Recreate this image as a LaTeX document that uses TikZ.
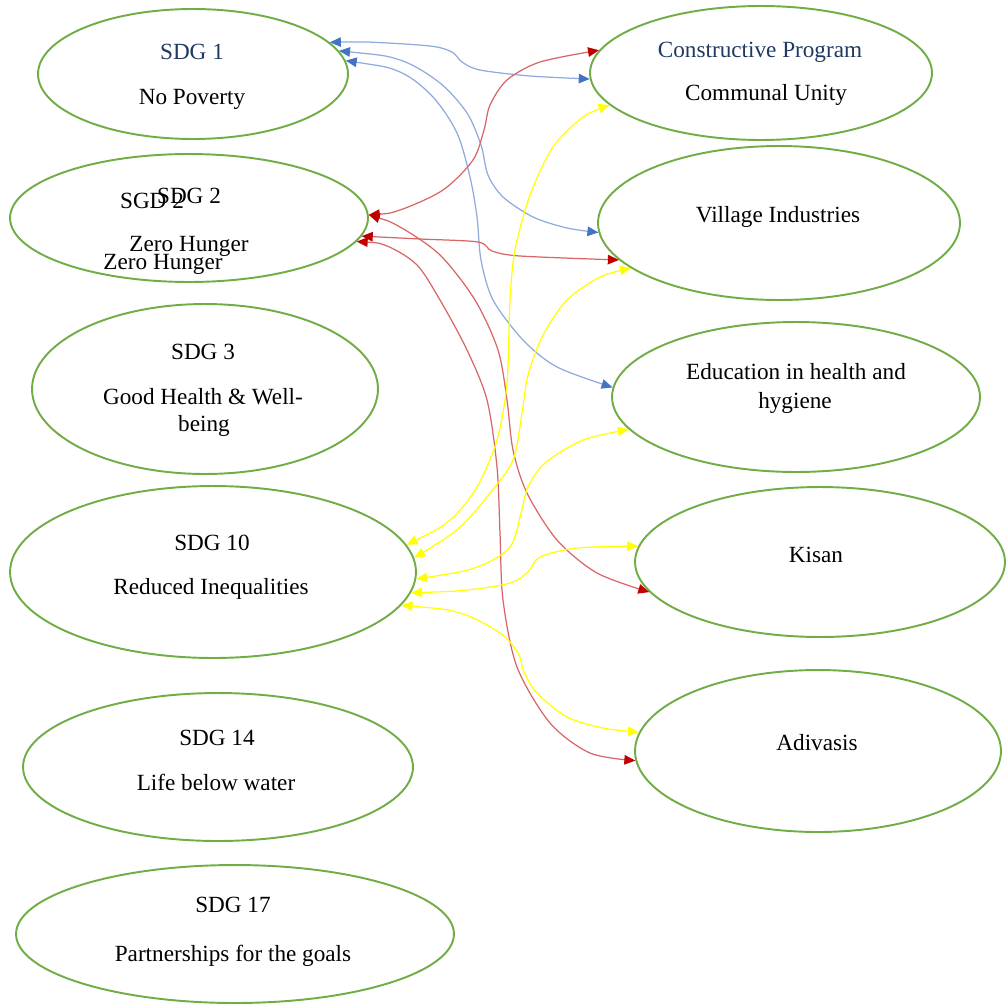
\documentclass[tikz,border=0pt]{standalone}
\usepackage{fontspec}
\setmainfont{Liberation Serif}
\usetikzlibrary{shapes.geometric,arrows.meta}
\definecolor{sdggreen}{HTML}{70AD47}
\definecolor{sdgblue}{HTML}{4472C4}
\definecolor{sdgred}{HTML}{C00000}
\definecolor{sdgyellow}{HTML}{FFFF00}
\definecolor{sdgnavy}{HTML}{1F3864}

\begin{document}
\begin{tikzpicture}
    [
    x=0.02cm, y=-0.02cm,
    goal/.style = {ellipse,draw=sdggreen,line width=1.1pt,inner sep=0pt},
    lbl/.style = {anchor=base,inner sep=0pt,font=\fontsize{13.2}{15}\selectfont},
    bconn/.style = {draw=sdgblue!60,line width=0.7pt,{Triangle[length=0.22cm,width=0.19cm,color=sdgblue]}-{Triangle[length=0.22cm,width=0.19cm,color=sdgblue]}},
    rconn/.style = {draw=sdgred!60,line width=0.7pt,{Triangle[length=0.22cm,width=0.19cm,color=sdgred]}-{Triangle[length=0.22cm,width=0.19cm,color=sdgred]}},
    yconn/.style = {draw=sdgyellow,line width=0.7pt,{Triangle[length=0.22cm,width=0.19cm,color=sdgyellow]}-{Triangle[length=0.22cm,width=0.19cm,color=sdgyellow]}}
    ]
\useasboundingbox (0,0) rectangle (1006,1004);

% goals
\node[goal,minimum width=6.2cm,minimum height=2.6cm] (sdgone) at (193,74) {};
\node[goal,minimum width=7.16cm,minimum height=2.56cm] (sdgtwo) at (189,218) {};
\node[goal,minimum width=6.92cm,minimum height=3.4cm] (sdgthree) at (205,389) {};
\node[goal,minimum width=8.12cm,minimum height=3.44cm] (sdgten) at (213,572) {};
\node[goal,minimum width=7.8cm,minimum height=2.96cm] (sdgfourteen) at (218,767) {};
\node[goal,minimum width=8.76cm,minimum height=2.76cm] (sdgseventeen) at (235,934) {};

% constructive program
\node[goal,minimum width=6.84cm,minimum height=2.68cm] (unity) at (761,73) {};
\node[goal,minimum width=7.24cm,minimum height=3.08cm] (village) at (779,223) {};
\node[goal,minimum width=7.36cm,minimum height=3.0cm] (educ) at (796,397) {};
\node[goal,minimum width=7.4cm,minimum height=3.0cm] (kisan) at (820,562) {};
\node[goal,minimum width=7.32cm,minimum height=3.24cm] (adiv) at (818,751) {};

\draw[bconn] plot[smooth,tension=0.5] coordinates {(sdgone.13) (367,42) (430,46) (452,52) (462,62) (480,70) (530,76) (unity.182)};
\draw[bconn] plot[smooth,tension=0.5] coordinates {(sdgone.9) (400,60) (440,83) (467,113) (481,145) (488,175) (503,197) (533,217) (567,228) (village.183)};
\draw[bconn] plot[smooth,tension=0.5] coordinates {(sdgone.5) (400,72) (433,97) (457,133) (470,177) (477,217) (481,260) (493,300) (523,340) (557,367) (educ.177)};

\draw[rconn] plot[smooth,tension=0.5] coordinates {(sdgtwo.1) (400,210) (443,190) (473,160) (484,130) (490,105) (507,80) (540,62) (unity.172)};
\draw[rconn] plot[smooth,tension=0.5] coordinates {(sdgtwo.-6) (420,239) (478,242) (492,251) (520,256) (village.193)};
\draw[rconn] plot[smooth,tension=0.5] coordinates {(sdgtwo.1) (400,227) (440,255) (475,300) (498,350) (507,400) (513,450) (527,493) (557,540) (597,573) (kisan.190)};
\draw[rconn] plot[smooth,tension=0.5] coordinates {(sdgtwo.-8) (387,246) (417,265) (440,300) (467,350) (487,400) (497,467) (500,533) (503,600) (517,667) (550,723) (590,753) (adiv.183)};

\draw[yconn] plot[smooth,tension=0.5] coordinates {(sdgten.8) (450,520) (477,487) (497,440) (507,383) (510,300) (515,250) (530,195) (553,147) (583,117) (unity.192)};
\draw[yconn] plot[smooth,tension=0.5] coordinates {(sdgten.4) (460,527) (490,493) (513,460) (522,413) (528,375) (543,335) (567,300) (600,277) (village.197)};
\draw[yconn] plot[smooth,tension=0.5] coordinates {(sdgten.-2) (477,567) (510,547) (521,513) (528,487) (545,463) (583,440) (educ.191)};
\draw[yconn] plot[smooth,tension=0.5] coordinates {(sdgten.-6) (467,590) (510,583) (528,572) (540,557) (577,548) (kisan.175)};
\draw[yconn] plot[smooth,tension=0.5] coordinates {(sdgten.-10) (460,613) (500,633) (518,653) (524,672) (537,693) (567,717) (603,728) (adiv.174)};

\node[lbl,text=sdgnavy] (sdgonenum) at (192,59) {SDG 1};
\node[lbl] (sdgonename) at (192,104) {No Poverty};
\node[lbl] (sdgtwonum) at (189,203) {SDG 2};
\node[lbl] (sdgtwonumb) at (152,208) {SGD 2};
\node[lbl] (sdgtwoname) at (189,251) {Zero Hunger};
\node[lbl] (sdgtwonameb) at (163,269) {Zero Hunger};
\node[lbl] (sdgthreenum) at (203,359) {SDG 3};
\node[lbl] (sdgthreename) at (203,404) {Good Health \& Well-};
\node[lbl] (sdgthreenameb) at (204,431) {being};
\node[lbl] (sdgtennum) at (212,550) {SDG 10};
\node[lbl] (sdgtenname) at (211,594) {Reduced Inequalities};
\node[lbl] (sdgfourteennum) at (217,745) {SDG 14};
\node[lbl] (sdgfourteenname) at (216,790) {Life below water};
\node[lbl] (sdgseventeennum) at (233,912) {SDG 17};
\node[lbl] (sdgseventeenname) at (233,961) {Partnerships for the goals};

\node[lbl,text=sdgnavy] (unitytitle) at (760,57) {Constructive Program};
\node[lbl] (unityname) at (766,100) {Communal Unity};
\node[lbl] (villagename) at (778,222) {Village Industries};
\node[lbl] (educname) at (796,379) {Education in health and};
\node[lbl] (educnameb) at (795,408) {hygiene};
\node[lbl] (kisanname) at (816,562) {Kisan};
\node[lbl] (adivname) at (817,750) {Adivasis};

\end{tikzpicture}
\end{document}
